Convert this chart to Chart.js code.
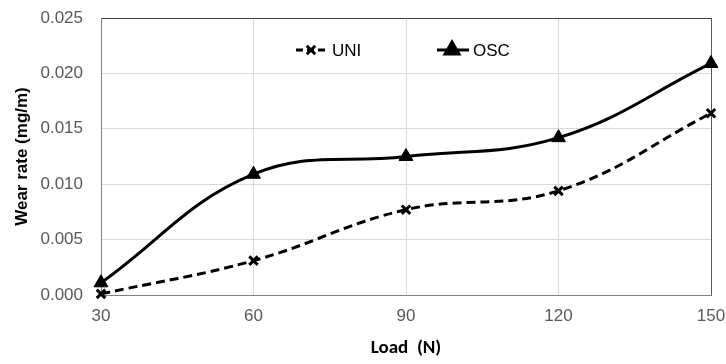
<!DOCTYPE html>
<html><head><meta charset="utf-8">
<script src="https://cdn.jsdelivr.net/npm/chart.js@4/dist/chart.umd.min.js"></script>
<style>html,body{margin:0;padding:0;background:#fff}#wrap{width:726px;height:364px}</style>
</head><body><div id="wrap"><canvas id="c" width="726" height="364"></canvas></div>
<script>
const categories = ['30','60','90','120','150'];
const uniValues = [0.0001, 0.0031, 0.0077, 0.0094, 0.0164];
const oscValues = [0.0011, 0.0109, 0.0125, 0.0142, 0.0209];
const yTicks = [0, 0.005, 0.010, 0.015, 0.020, 0.025];
const seriesNames = ['UNI', 'OSC'];

const tickFont = {family: '"Liberation Sans Narrow","Liberation Sans",Arial,sans-serif', size: 17};

const legendPlugin = {
  id: 'customLegend',
  afterDraw(chart) {
    const ctx = chart.ctx;
    const y = 50;
    const items = [
      {x0: 296, name: seriesNames[0], ds: chart.data.datasets[0]},
      {x0: 437, name: seriesNames[1], ds: chart.data.datasets[1]}
    ];
    ctx.save();
    items.forEach((it, i) => {
      ctx.strokeStyle = '#000';
      ctx.lineWidth = 3;
      ctx.setLineDash(i === 0 ? [7, 4] : []);
      ctx.beginPath(); ctx.moveTo(it.x0, y); ctx.lineTo(it.x0 + 32, y); ctx.stroke();
      ctx.setLineDash([]);
      Chart.helpers.drawPoint(ctx, {pointStyle: it.ds.pointStyle, radius: it.ds.pointRadius, borderWidth: it.ds.pointBorderWidth, rotation: 0}, it.x0 + 15, y);
      ctx.fillStyle = '#000';
      ctx.font = '17px "Liberation Sans Narrow","Liberation Sans",Arial,sans-serif';
      ctx.textBaseline = 'middle';
      ctx.fillText(it.name, it.x0 + 36, y + 1);
    });
    ctx.restore();
  }
};

new Chart(document.getElementById('c'), {
  type: 'line',
  data: {
    labels: categories,
    datasets: [
      {label: seriesNames[0], data: uniValues, borderColor: '#000', backgroundColor: '#000', borderWidth: 3,
       borderDash: [9, 5], tension: 0.4, pointStyle: 'crossRot', pointRadius: 6, pointBorderWidth: 3, clip: false},
      {label: seriesNames[1], data: oscValues, borderColor: '#000', backgroundColor: '#000', borderWidth: 3,
       tension: 0.4, pointStyle: 'triangle', pointRadius: 8, pointBorderWidth: 1, clip: false}
    ]
  },
  options: {
    responsive: false, animation: false, devicePixelRatio: 1,
    layout: {padding: {left: 0, right: 15, top: 18, bottom: 0}},
    plugins: {legend: {display: false}, tooltip: {enabled: false}},
    scales: {
      x: {
        offset: false,
        grid: {drawTicks: false, color: (c) => c.index === categories.length - 1 ? '#595959' : '#d9d9d9', lineWidth: 1},
        border: {color: '#808080', width: 1},
        ticks: {color: '#595959', font: tickFont, padding: 11, maxRotation: 0},
        title: {display: true, text: 'Load  (N)', color: '#000', font: {family: 'Carlito,"Liberation Sans",Arial,sans-serif', size: 19, weight: 'bold'}, padding: {top: 7}},
        afterFit(s) { s.height = 69; s.paddingLeft = 0; s.paddingRight = 0; }
      },
      y: {
        min: 0, max: 0.025,
        afterBuildTicks(s) { s.ticks = yTicks.map(v => ({value: v})); },
        grid: {drawTicks: false, color: (c) => c.index === yTicks.length - 1 ? '#404040' : '#d9d9d9', lineWidth: 1},
        border: {color: '#808080', width: 1},
        ticks: {color: '#595959', font: tickFont, padding: 18, callback: (v) => v.toFixed(3)},
        title: {display: true, text: 'Wear rate (mg/m)', color: '#000', font: {family: '"Liberation Sans Narrow","Liberation Sans",Arial,sans-serif', size: 17, weight: 'bold'}, padding: {top: 12, bottom: 0}},
        afterFit(s) { s.width = 101; s.paddingTop = 0; s.paddingBottom = 0; }
      }
    }
  },
  plugins: [legendPlugin]
});
</script></body></html>
